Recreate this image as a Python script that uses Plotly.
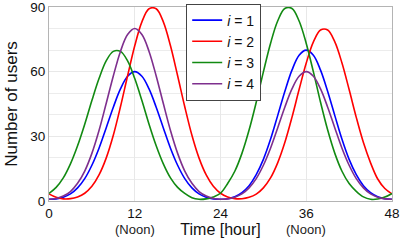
import plotly.graph_objects as go

hours = list(range(0, 49))

users_i1 = [0.8, 1.0, 1.75, 3.3, 6.1, 10.4, 16.6, 24.5, 33.9, 43.5, 52.0, 57.9, 60.0,
            57.9, 52.0, 43.5, 33.9, 24.5, 16.6, 10.4, 6.1, 3.3, 1.75, 0.97, 0.8,
            1.07, 2.0, 3.9, 7.1, 12.2, 19.3, 28.6, 39.6, 50.8, 60.7, 67.6, 70.0,
            67.6, 60.7, 50.8, 39.6, 28.6, 19.3, 12.2, 7.1, 3.9, 2.0, 1.07, 0.8]
users_i2 = [3.3, 1.7, 1.0, 1.1, 1.9, 3.6, 6.8, 12.1, 19.9, 30.5, 43.7, 58.1, 72.0,
            83.1, 89.2, 89.2, 83.1, 72.0, 58.1, 43.7, 30.5, 19.9, 12.1, 6.8, 3.6,
            1.9, 1.1, 1.05, 1.7, 3.2, 6.1, 10.7, 17.7, 27.1, 38.8, 51.7, 64.0,
            73.8, 79.3, 79.3, 73.8, 64.0, 51.7, 38.8, 27.1, 17.7, 10.2, 5.8, 3.3]
users_i3 = [3.5, 6.3, 10.7, 17.2, 25.6, 35.6, 46.6, 56.8, 65.0, 69.4, 69.4, 65.0, 56.8,
            46.6, 35.6, 25.6, 17.2, 10.7, 6.3, 3.5, 1.5, 0.8, 1.0, 1.9, 3.6,
            8.1, 13.8, 22.1, 32.9, 45.8, 59.9, 73.1, 83.5, 89.3, 89.3, 83.5, 73.1,
            59.9, 45.8, 32.9, 22.1, 13.8, 8.1, 4.5, 1.9, 0.8, 0.9, 1.8, 3.5]
users_i4 = [0.8, 1.2, 2.3, 4.4, 8.2, 13.9, 22.1, 32.7, 45.2, 58.0, 69.4, 77.2, 80.0,
            77.2, 69.4, 58.0, 45.2, 32.7, 22.1, 13.9, 8.2, 4.4, 2.3, 1.2, 0.8,
            1.0, 1.75, 3.3, 6.1, 10.4, 16.6, 24.5, 33.9, 43.5, 52.0, 57.9, 60.0,
            57.9, 52.0, 43.5, 33.9, 24.5, 16.6, 10.4, 6.1, 3.3, 1.75, 1.0, 0.8]

series_names = ["<i>i</i> = 1", "<i>i</i> = 2", "<i>i</i> = 3", "<i>i</i> = 4"]
series_values = [users_i1, users_i2, users_i3, users_i4]
series_colors = ["#0000ff", "#ff0000", "#128a12", "#7e2f8e"]

x_ticks = [0, 12, 24, 36, 48]
y_ticks = [0, 30, 60, 90]
noon_hours = [12, 36]

fig = go.Figure()
for name, vals, col in zip(series_names, series_values, series_colors):
    fig.add_trace(go.Scatter(x=hours, y=vals, mode="lines", name=name,
                             line=dict(color=col, width=1.6, shape="spline", smoothing=1.0)))

for h in noon_hours:
    fig.add_annotation(x=h, y=-0.145, xref="x", yref="paper", text="(Noon)",
                       showarrow=False, yanchor="middle",
                       font=dict(size=13, color="#222"))

font_family = "Liberation Sans, Arial, sans-serif"
fig.update_layout(
    width=409, height=242,
    margin=dict(l=49, r=17, t=7, b=41, autoexpand=False),
    paper_bgcolor="white", plot_bgcolor="white",
    font=dict(family=font_family, color="#111", size=13),
    showlegend=True,
    legend=dict(x=0.40, y=1.018, xanchor="left", yanchor="top",
                bgcolor="white", bordercolor="#444", borderwidth=1,
                font=dict(size=14, color="#111"), tracegroupgap=0),
    xaxis=dict(range=[0, 48], tickvals=x_ticks, ticks="", showgrid=True,
               gridcolor="#e8e8e8", gridwidth=1, zeroline=False, automargin=False,
               showline=True, mirror=True, linecolor="#b4b4b4", linewidth=1,
               tickfont=dict(size=13.5), ticklabeloverflow="allow",
               title=dict(text="Time [hour]", font=dict(size=16), standoff=0)),
    yaxis=dict(range=[0, 90], tickvals=y_ticks, ticks="", showgrid=True,
               gridcolor="#e8e8e8", gridwidth=1, zeroline=False, automargin=False,
               showline=True, mirror=True, linecolor="#b4b4b4", linewidth=1,
               tickfont=dict(size=13.5), ticklabeloverflow="allow",
               minor=dict(dtick=10, showgrid=True, gridcolor="#ececec"),
               title=dict(text="Number of users", font=dict(size=17), standoff=8)),
)

fig.write_html("out.html", config={"displayModeBar": False},
               post_script="document.body.style.margin='0';document.body.style.padding='0';"
                           "document.documentElement.style.overflow='hidden';")
